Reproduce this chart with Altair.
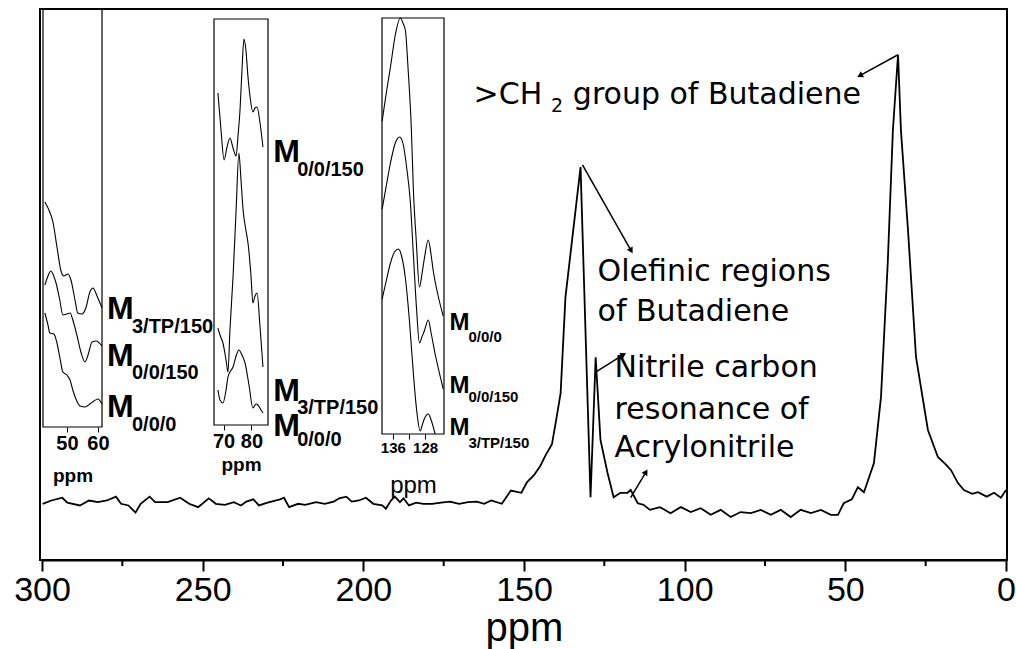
import altair as alt
import pandas as pd

# ---------------- main spectrum (ppm, intensity 0..100) ----------------
main_ppm = [299.8, 297.1, 293.7, 292.1, 288.2, 285.4, 282.6, 279.8, 277.0, 275.4,
            273.1, 270.9, 269.3, 266.5, 264.8, 260.9, 257.0, 254.2, 251.4, 248.1,
            245.9, 243.1, 240.3, 238.1, 236.4, 234.2, 232.5, 229.8, 225.9, 224.7,
            223.1, 220.3, 218.1, 214.7, 212.0, 209.2, 207.5, 205.3, 203.6, 201.4,
            199.2, 196.9, 194.1, 193.0, 191.4, 190.2, 188.6, 187.5, 185.8, 183.6,
            181.3, 178.6, 175.8, 173.0, 170.2, 167.4, 164.7, 162.4, 160.2, 156.9,
            154.1, 150.8, 149.1, 146.9, 145.0, 143.3, 141.3, 140.0, 138.6, 137.1,
            132.4, 129.3, 127.7, 126.2, 124.0, 122.1, 120.0, 117.8, 116.8, 114.6,
            112.8, 110.8, 107.7, 104.4, 101.2, 98.1, 95.0, 91.9, 88.8, 85.7,
            82.6, 79.4, 76.3, 73.2, 70.1, 67.0, 63.9, 60.7, 57.6, 54.5,
            52.3, 50.5, 48.0, 46.1, 44.2, 41.1, 38.9, 36.8, 35.2, 33.6,
            32.7, 30.5, 28.0, 24.3, 21.2, 19.0, 17.1, 15.0, 13.1, 10.5,
            8.7, 6.0, 3.7, 1.6, 0.0]
main_int = [10.2, 10.8, 11.3, 10.4, 9.9, 10.8, 10.5, 10.8, 11.5, 10.2,
            9.9, 8.6, 10.2, 11.5, 10.5, 10.5, 11.3, 10.2, 9.6, 11.2,
            10.2, 10.0, 10.5, 9.9, 10.6, 11.0, 9.9, 10.4, 11.0, 11.3,
            9.6, 10.2, 10.0, 10.5, 10.2, 10.6, 11.2, 11.5, 10.6, 10.8,
            11.3, 10.2, 9.9, 9.3, 10.8, 11.5, 10.5, 11.2, 9.9, 10.4,
            10.2, 10.2, 10.4, 10.6, 10.2, 10.5, 10.6, 10.2, 10.8, 10.2,
            12.6, 12.2, 14.1, 15.4, 17.0, 19.0, 21.0, 25.4, 30.3, 47.7,
            71.3, 11.4, 36.8, 21.8, 15.8, 11.4, 12.2, 12.2, 12.7, 10.3,
            10.0, 9.1, 9.6, 8.5, 9.6, 8.7, 9.4, 8.2, 9.1, 7.8,
            8.7, 8.5, 9.1, 8.2, 9.1, 7.8, 9.1, 8.5, 9.1, 8.2,
            8.2, 10.3, 11.0, 13.2, 12.3, 17.6, 29.6, 53.9, 78.0, 91.7,
            78.0, 59.9, 36.8, 23.6, 18.7, 17.5, 16.3, 14.0, 12.7, 12.0,
            12.3, 11.5, 12.2, 11.3, 12.7]

major_ticks = [300, 250, 200, 150, 100, 50, 0]
minor_ticks = [275, 225, 175, 125, 75, 25]

# ---------------- inset 1 (45-60 ppm) ----------------
in1_a_ppm = [42.9, 44.2, 45.5, 46.8, 48.1, 49.0, 50.3, 51.3, 52.6, 53.5, 54.8, 56.1, 57.4, 58.4, 59.7, 61.3]
in1_a_val = [225, 217, 205, 180, 156, 151, 153, 147, 127, 114, 113, 119, 135, 139, 131, 119]
in1_b_ppm = [42.9, 43.9, 44.8, 45.5, 46.5, 47.7, 48.7, 50.0, 51.0, 51.9, 53.2, 54.5, 55.8, 56.8, 58.1, 59.4, 61.3]
in1_b_val = [142, 151, 156, 153, 144, 127, 112, 113, 114, 107, 92, 75, 65, 72, 85, 86, 81]
in1_c_ppm = [42.9, 43.9, 44.5, 45.8, 46.8, 47.7, 48.7, 50.0, 51.0, 51.9, 52.9, 54.2, 55.8, 57.4, 58.7, 60.0, 61.3]
in1_c_val = [114, 102, 94, 93, 84, 70, 55, 52, 47, 37, 28, 21, 20, 23, 26, 28, 23]
in1_dom_x = [42.3, 61.3]
in1_dom_y = [0, 418]
in1_ticks = [50, 60]

# ---------------- inset 2 (70-80 ppm) ----------------
in2_a_ppm = [68.0, 69.1, 70.2, 71.25, 72.3, 73.4, 74.5, 75.2, 75.9, 76.6, 77.3, 78.0, 78.75, 79.5, 80.5, 81.25, 82.0, 83.0, 84.1]
in2_a_val = [332, 295, 265, 278, 287, 277, 269, 290, 315, 355, 386, 375, 348, 328, 313, 317, 318, 303, 278]
in2_b_ppm = [68.0, 68.75, 69.8, 70.9, 71.6, 72.3, 73.4, 74.5, 75.5, 76.25, 77.0, 78.0, 78.75, 79.8, 80.5, 81.25, 82.0, 83.0, 84.1]
in2_b_val = [97, 90, 82, 65, 53, 95, 148, 215, 272, 245, 215, 195, 182, 150, 122, 129, 132, 100, 58]
in2_c_ppm = [68.0, 68.75, 69.8, 70.9, 71.6, 72.3, 73.4, 74.5, 75.5, 76.6, 77.7, 79.1, 80.5, 81.6, 82.3, 83.4, 84.1]
in2_c_val = [35, 25, 22, 35, 48, 53, 58, 69, 75, 70, 62, 40, 17, 21, 20, 15, 12]
in2_dom_x = [66.6, 85.9]
in2_dom_y = [0, 406]
in2_ticks = [70, 80]

# ---------------- inset 3 (136-128 ppm) ----------------
in3_a_ppm = [138.66, 137.6, 136.6, 135.4, 134.15, 133.4, 132.9, 132.2, 131.4, 130.9, 130.2, 129.4, 128.7, 128.2, 127.2, 126.5, 126.0, 124.8, 123.5]
in3_a_val = [313, 342, 367, 399, 416, 410, 404, 364, 304, 244, 194, 147, 162, 175, 194, 179, 164, 139, 118]
in3_b_ppm = [138.66, 137.6, 136.6, 135.4, 134.3, 133.4, 132.5, 131.7, 130.9, 130.1, 129.4, 128.7, 128.2, 127.2, 126.5, 125.5, 124.5, 123.5]
in3_b_val = [225, 249, 271, 291, 297, 289, 264, 234, 179, 124, 91, 98, 103, 114, 101, 80, 62, 45]
in3_c_ppm = [138.66, 137.6, 136.6, 135.6, 134.6, 133.9, 132.9, 131.9, 130.9, 130.1, 129.2, 128.7, 128.2, 127.2, 126.5, 125.5]
in3_c_val = [135, 154, 171, 182, 185, 179, 156, 114, 60, 24, 3, 9, 15, 20, 14, 0]
in3_dom_x = [138.7, 123.3]
in3_dom_y = [0, 416]
in3_ticks = [136, 132, 128]

# ---------------- annotations (main data units) ----------------
ann_text = [">CH", "group of Butadiene", "Olefinic regions", "of Butadiene",
            "Nitrile carbon", "resonance of", "Acrylonitrile"]
ann_ppm = [165.7, 134.8, 127.1, 127.1, 121.8, 121.8, 121.8]
ann_v = [84.4, 84.4, 52.3, 45.0, 34.8, 27.2, 20.3]
sub2_text = ["2"]
sub2_ppm = [141.6]
sub2_v = [82.4]

# arrows: start -> end (main data units)
arr_ppm = [33.6, 131.8, 127.7, 116.8]
arr_v = [91.7, 71.7, 34.1, 11.3]
arr_ppm2 = [45.2, 116.8, 119.3, 112.2]
arr_v2 = [88.0, 56.3, 37.2, 15.8]
arr_angle = [241.6, 150.5, 57.8, 31.0]

# sample labels next to insets (main data units)
lab_big_ppm = [279.75, 279.75, 279.75, 228.0, 228.0, 228.0]
lab_big_v = [45.55, 37.0, 27.8, 74.05, 30.7, 24.3]
lab_big_sub = ["3/TP/150", "0/0/150", "0/0/0", "0/0/150", "3/TP/150", "0/0/0"]
lab_big_sub_ppm = [272.0, 272.0, 272.0, 220.6, 220.6, 220.6]
lab_big_sub_v = [42.3, 33.9, 24.5, 70.8, 27.6, 21.8]
lab_sm_ppm = [173.2, 173.2, 173.2]
lab_sm_v = [43.0, 31.6, 24.0]
lab_sm_sub = ["0/0/0", "0/0/150", "3/TP/150"]
lab_sm_sub_ppm = [167.3, 167.3, 167.3]
lab_sm_sub_v = [40.5, 29.6, 21.2]

W, H = 967, 551
SANS = "Liberation Sans"
ANN_FONT = "DejaVu Sans"

xs = alt.Scale(domain=[300, 0], range=[2, 966], nice=False, zero=False)
ys = alt.Scale(domain=[0, 100], nice=False, zero=False)

main_axis = alt.Axis(
    orient="bottom", values=major_ticks, title="ppm", grid=False, format="d",
    labelFont=SANS, labelFontSize=34, labelColor="black", labelPadding=2,
    labelFlush=False, labelOverlap=False,
    tickColor="black", tickSize=11, tickWidth=2,
    domainColor="black", domainWidth=2,
    titleFont=SANS, titleFontSize=40, titleFontWeight="normal",
    titleColor="black", titlePadding=1)

main_df = pd.DataFrame({"ppm": main_ppm, "v": main_int})
main_line = alt.Chart(main_df).mark_line(color="black", strokeWidth=1.8).encode(
    x=alt.X("ppm:Q", scale=xs, axis=main_axis),
    y=alt.Y("v:Q", scale=ys, axis=None),
)

minor_df = pd.DataFrame({"ppm": minor_ticks, "v": [0] * len(minor_ticks), "v2": [-1.1] * len(minor_ticks)})
minor = alt.Chart(minor_df).mark_rule(color="black", strokeWidth=2).encode(
    x=alt.X("ppm:Q"), y=alt.Y("v:Q", axis=None), y2="v2:Q")

ann_df = pd.DataFrame({"t": ann_text, "ppm": ann_ppm, "v": ann_v})
ann = alt.Chart(ann_df).mark_text(font=ANN_FONT, fontSize=30, align="left",
                                  baseline="middle", color="black").encode(
    x=alt.X("ppm:Q"), y=alt.Y("v:Q", axis=None), text="t:N")

sub2_df = pd.DataFrame({"t": sub2_text, "ppm": sub2_ppm, "v": sub2_v})
sub2 = alt.Chart(sub2_df).mark_text(font=ANN_FONT, fontSize=19, align="left",
                                    baseline="middle", color="black").encode(
    x=alt.X("ppm:Q"), y=alt.Y("v:Q", axis=None), text="t:N")

arr_df = pd.DataFrame({"ppm": arr_ppm, "v": arr_v, "ppm2": arr_ppm2, "v2": arr_v2, "ang": arr_angle})
arr_lines = alt.Chart(arr_df).mark_rule(color="black", strokeWidth=1.5).encode(
    x=alt.X("ppm:Q"), y=alt.Y("v:Q", axis=None), x2="ppm2:Q", y2="v2:Q")
arr_heads = alt.Chart(arr_df).mark_point(shape="triangle", filled=True, color="black",
                                         size=45, opacity=1).encode(
    x=alt.X("ppm2:Q"), y=alt.Y("v2:Q", axis=None),
    angle=alt.Angle("ang:Q", scale=None))

big_df = pd.DataFrame({"t": ["M"] * len(lab_big_ppm), "ppm": lab_big_ppm, "v": lab_big_v})
big_m = alt.Chart(big_df).mark_text(font=SANS, fontSize=32, fontWeight="bold", align="left",
                                    baseline="middle", color="black").encode(
    x=alt.X("ppm:Q"), y=alt.Y("v:Q", axis=None), text="t:N")
bigs_df = pd.DataFrame({"t": lab_big_sub, "ppm": lab_big_sub_ppm, "v": lab_big_sub_v})
big_s = alt.Chart(bigs_df).mark_text(font=SANS, fontSize=20, fontWeight="bold", align="left",
                                     baseline="middle", color="black").encode(
    x=alt.X("ppm:Q"), y=alt.Y("v:Q", axis=None), text="t:N")
sm_df = pd.DataFrame({"t": ["M"] * len(lab_sm_ppm), "ppm": lab_sm_ppm, "v": lab_sm_v})
sm_m = alt.Chart(sm_df).mark_text(font=SANS, fontSize=24, fontWeight="bold", align="left",
                                  baseline="middle", color="black").encode(
    x=alt.X("ppm:Q"), y=alt.Y("v:Q", axis=None), text="t:N")
sms_df = pd.DataFrame({"t": lab_sm_sub, "ppm": lab_sm_sub_ppm, "v": lab_sm_sub_v})
sm_s = alt.Chart(sms_df).mark_text(font=SANS, fontSize=15, fontWeight="bold", align="left",
                                   baseline="middle", color="black").encode(
    x=alt.X("ppm:Q"), y=alt.Y("v:Q", axis=None), text="t:N")

main = alt.layer(main_line, minor, arr_lines, arr_heads, ann, sub2, big_m, big_s, sm_m, sm_s)


def inset(series, dom_x, dom_y, xrange, yrange, ticks, offset, label_expr,
          label_size, title_size, title_weight, title_pad):
    rows = []
    for name, pp, vv in series:
        for p, v in zip(pp, vv):
            rows.append({"ppm": p, "val": v, "trace": name})
    df = pd.DataFrame(rows)
    axis = alt.Axis(orient="bottom", offset=offset, values=ticks, labelExpr=label_expr,
                    format="d",
                    grid=False, domain=False, tickColor="black", tickSize=5, tickWidth=1,
                    labelFont=SANS, labelFontSize=label_size, labelFontWeight="bold",
                    labelColor="black", labelPadding=1, labelFlush=False, labelOverlap=False,
                    title="ppm", titleFont=SANS, titleFontSize=title_size,
                    titleFontWeight=title_weight, titleColor="black", titlePadding=title_pad)
    x = alt.X("ppm:Q", scale=alt.Scale(domain=dom_x, range=xrange, nice=False, zero=False), axis=axis)
    y = alt.Y("val:Q", scale=alt.Scale(domain=dom_y, range=yrange, nice=False, zero=False), axis=None)
    lines = alt.Chart(df).mark_line(color="black", strokeWidth=1.1, interpolate="monotone").encode(
        x=x, y=y, detail="trace:N")
    fdf = pd.DataFrame({"x0": [dom_x[0]], "x1": [dom_x[1]], "y0": [dom_y[0]], "y1": [dom_y[1]]})
    frame = alt.Chart(fdf).mark_rect(fillOpacity=0, stroke="black", strokeWidth=1.2).encode(
        x=alt.X("x0:Q"), x2="x1:Q", y=alt.Y("y0:Q", axis=None), y2="y1:Q")
    return alt.layer(lines, frame)


in1 = inset([("a", in1_a_ppm, in1_a_val), ("b", in1_b_ppm, in1_b_val), ("c", in1_c_ppm, in1_c_val)],
            in1_dom_x, in1_dom_y, [3, 62], [418, 0], in1_ticks, -133, "datum.label",
            20, 19, "bold", 13)
in2 = inset([("a", in2_a_ppm, in2_a_val), ("b", in2_b_ppm, in2_b_val), ("c", in2_c_ppm, in2_c_val)],
            in2_dom_x, in2_dom_y, [174, 228], [416, 10], in2_ticks, -135, "datum.label",
            20, 19, "bold", 4)
in3 = inset([("a", in3_a_ppm, in3_a_val), ("b", in3_b_ppm, in3_b_val), ("c", in3_c_ppm, in3_c_val)],
            in3_dom_x, in3_dom_y, [342, 404], [425, 9], in3_ticks, -126,
            "datum.value == 132 ? '' : datum.label", 15, 24, "normal", 18)

chart = alt.layer(main, in1, in2, in3).resolve_scale(
    x="independent", y="independent"
).properties(
    width=W, height=H,
    autosize=alt.AutoSizeParams(type="none"),
    padding={"left": 40, "top": 9, "right": 9, "bottom": 89},
    background="white",
).configure_view(stroke="black", strokeWidth=2)

chart.save("out.html", embed_options={"renderer": "svg", "actions": False})
